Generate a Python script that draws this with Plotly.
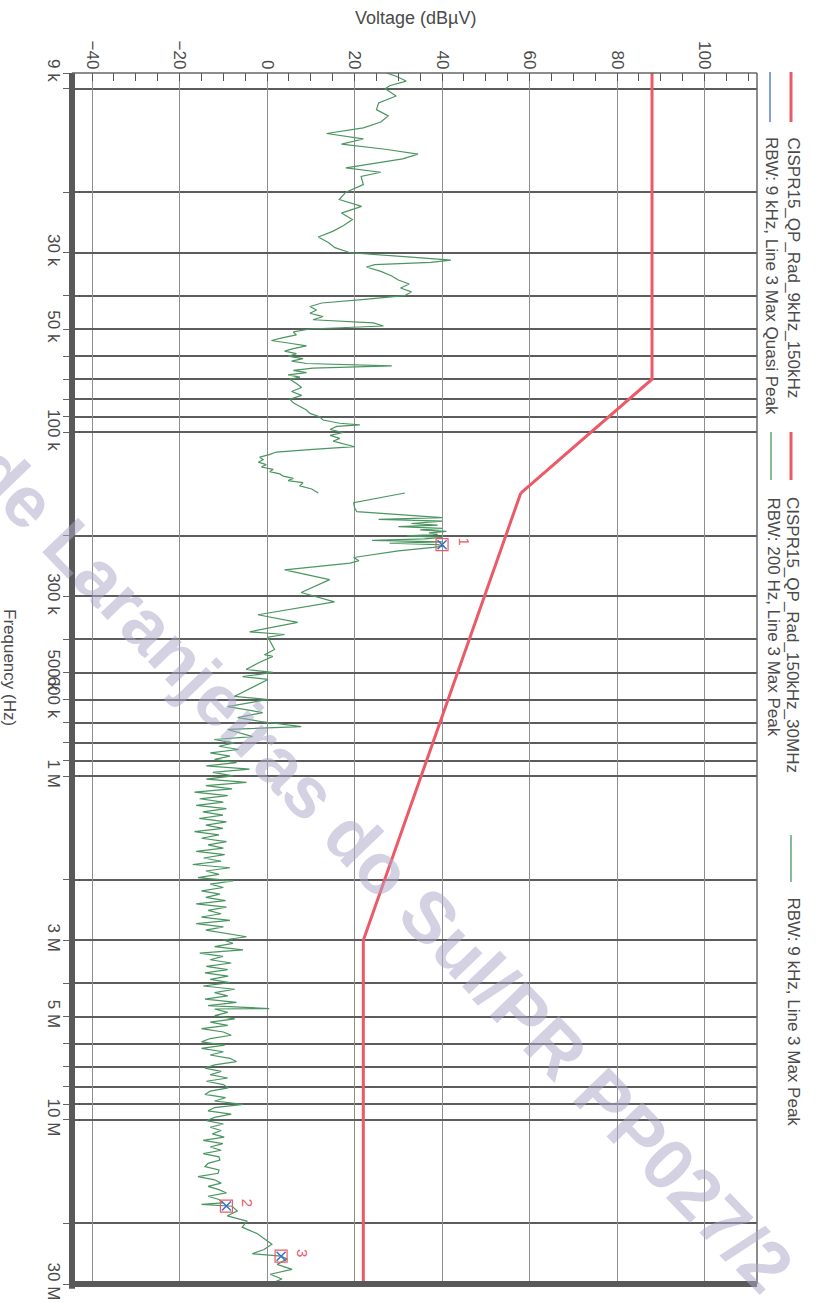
import math
import plotly.graph_objects as go

# ---------------- data (frequency in kHz, level in dBuV) ----------------
limit_lf_khz = [9, 70, 150]
limit_lf_db = [88, 88, 58]
limit_hf_khz = [150, 3000, 30000]
limit_hf_db = [58, 22, 22]

# RBW 200 Hz sweep, 9 kHz - 150 kHz
lf_khz = [9.0, 9.2, 9.5, 9.8, 10, 10.5, 11, 11.5, 12, 12.5, 13, 13.5, 14, 14.5, 15, 15.5,
          16, 16.5, 17, 17.5, 18, 19, 20, 21, 22, 23, 24, 25, 26, 27, 28, 29, 30, 31, 31.5,
          32, 32.5, 33, 34, 35, 36, 37, 38, 39, 40, 41, 42, 43, 44, 45, 46, 47, 48, 49, 50,
          51, 52, 53, 54, 55, 56, 57, 58, 59, 60, 61, 62, 63, 64, 65, 66, 67, 68, 69, 70,
          72, 74, 76, 78, 80, 82, 84, 86, 88, 90, 92, 94, 95, 96, 98, 100, 102, 104, 106,
          108, 110, 112, 114, 116, 118, 120, 122, 124, 126, 128, 130, 132, 134, 136, 138,
          140, 143, 146, 150]
lf_db = [27.3, 29.5, 31.8, 28, 27, 29.5, 25.5, 25, 27.7, 26, 22, 13.6, 22, 17, 27, 34.5,
         31, 24, 18, 26, 21.5, 22, 18, 16.5, 21.6, 17, 19.5, 17.5, 15, 11.7, 14, 15.5, 19,
         34.5, 42, 37.5, 24.6, 22.7, 26, 28.4, 30, 32.5, 30.5, 33, 31.4, 22.3, 12.5, 9.8,
         11.3, 9.8, 12.8, 10.5, 24.3, 26.6, 9.8, 6, 6.7, 3.7, 1, 5.2, 9, 6, 4, 6.7, 4.8,
         8.2, 5.6, 9, 28.5, 10.5, 6, 9, 4.8, 7.5, 5.2, 6.7, 7.9, 5.6, 7.9, 5.2, 6, 7.5, 9,
         9.8, 12, 12.8, 16.6, 21.2, 15.9, 14.4, 17.4, 14.4, 16.6, 15.1, 17.8, 20, 10.5, 2.1,
         0.5, -1.7, -0.9, -2, -0.2, -1.3, 1.4, 0.6, 2.9, 3.7, 6, 4.8, 8.2, 7.5, 10.2, 11.7]

# RBW 9 kHz sweep, 150 kHz - 30 MHz
hf_khz = [150, 160, 165.5, 170, 177, 179, 181, 184, 186, 188,
          190, 192, 194, 196, 198, 200, 202, 204, 206, 208,
          210, 212, 214, 216, 221, 231, 236, 240, 251, 268,
          292, 311, 339, 357, 380, 387, 394, 428, 443, 448,
          467, 489, 499, 513, 523, 541, 552, 586, 598, 627,
          653, 675, 693, 717, 731, 767,
          782, 800, 818, 836, 855, 874, 893, 913, 933, 954,
          975, 997, 1019, 1042, 1065, 1089, 1113, 1138, 1163, 1189,
          1215, 1242, 1270, 1298, 1327, 1357, 1387, 1418, 1450, 1482,
          1515, 1549, 1583, 1618, 1654, 1691, 1729, 1767, 1806, 1846,
          1887, 1929, 1972, 2016, 2061, 2107, 2154, 2202, 2251, 2301,
          2352, 2404, 2457, 2512, 2568, 2625, 2683, 2743, 2804, 2866,
          2930, 2995, 3062, 3130, 3200, 3271, 3344, 3418, 3494, 3572,
          3651, 3732, 3815, 3900, 3987, 4076, 4166, 4259, 4354, 4451,
          4550, 4651, 4740, 4755, 4861, 4969, 5079, 5192, 5308, 5426,
          5547, 5670, 5796, 5925, 6057, 6192, 6330, 6471, 6615, 6762,
          6912, 7066, 7223, 7384, 7548, 7716, 7888, 8064, 8243, 8426,
          8614, 8805, 9001, 9201, 9406, 9615, 9829, 10048, 10271, 10500,
          10733, 10972, 11216, 11466, 11721, 11982, 12248, 12521, 12799, 13084,
          13375, 13672, 13976, 14287, 14605, 14930, 15262, 15602, 15949, 16304,
          16666, 17037, 17416, 17600, 17820,
          18400, 19000, 19700, 20500, 21400, 22200, 23000, 23800, 24500, 24900,
          25400, 26300, 27200, 28100, 29000, 29800]
hf_db = [31.5, 19.8, 20, 20.5, 40, 25.5, 40, 33, 39, 30,
         40, 35, 41, 37, 39, 32, 40, 36, 24, 40,
         28, 39, 40.5, 38, 30, 19.8, 21, 19, 4, 14.3,
         7.8, 15.4, -2.1, 7, -4, 4, 0.2, 1.7, -0.6, 1.3,
         -1.8, -4.8, 1.3, -5.6, 0.2, -2.1, -3.7, -7.5, 0.2, -9,
         -1, -6.7, -1.4, 7.8, -9, -3.3,
         -12.1, -7.5, -11, -6.5, -13, -8.5, -12, -7, -13.9, -4,
         -12.4, -7.8, -13.9, -4.7, -14, -8, -16.6, -9, -15.4, -10,
         -16.2, -9.3, -14.7, -10.1, -15.5, -9.3, -14, -10.1, -16.6, -11,
         -15, -9.3, -13.5, -10, -16.2, -9.7, -14.5, -10.5, -17, -8.5,
         -14, -11, -15.8, -7.8, -13, -10, -15, -10.8, -14, -9.5,
         -16.2, -9.3, -13.5, -10.5, -15, -8.5, -16.2, -10, -14, -9.3,
         -4.7, -10, -7.8, -12, -5.5, -15.4, -10.1, -13, -8.2, -13.9,
         -9, -14.2, -8.9, -13, -8.5, -14.6, -7.4, -12, -9, -14.2,
         -7, -13.5, 0.5, -12, -9, -12, -7.4, -13, -9, -15,
         -10, -8.2, -13, -15, -9.7, -15, -10, -13, -8.5, -7,
         -12, -14.2, -10.5, -13, -9, -13.9, -10, -8.9, -13, -14.2,
         -9.5, -12, -5.5, -12, -13.5, -8.2, -12, -13.9, -10, -13,
         -10.5, -12.5, -9.8, -14.6, -10.1, -13, -10.5, -14.6, -11, -10.8,
         -13.5, -14.2, -11, -11.2, -15.8, -12, -10.5, -13.5, -11, -9.3,
         -13.5, -11, -10.1, -15, -8,
         -6.8, -9.1, -4.6, -5.7, -2.3, -0.7, 1.1, -0.7, -3.4, 3.2,
         4.6, 2.3, 5.7, 0.7, 3.4, 1.1]
assert len(hf_khz) == len(hf_db) and len(lf_khz) == len(lf_db)

marker_khz = [212, 17800, 24900]
marker_db = [40.0, -9.3, 3.2]
marker_labels = ["1", "2", "3"]

freq_tick_hz = [9e3, 3e4, 5e4, 1e5, 3e5, 5e5, 6e5, 1e6, 3e6, 5e6, 1e7, 3e7]
freq_tick_text = ["9 k", "30 k", "50 k", "100 k", "300 k", "500 k", "600 k", "1 M",
                  "3 M", "5 M", "10 M", "30 M"]
freq_grid_hz = [1e4, 2e4, 4e4, 6e4, 7e4, 8e4, 9e4, 2e5, 4e5, 7e5, 8e5, 9e5,
                2e6, 4e6, 6e6, 7e6, 8e6, 9e6, 2e7]
volt_ticks = [-40, -20, 0, 20, 40, 60, 80, 100]

# ---------------- styling ----------------
RED = "#ec5a68"
GREEN = "#4a9660"
BLUE = "#3b6fc6"
GRID_H = "#5c5c5c"
GRID_V = "#8e8e8e"
FONT = "Liberation Sans, Arial, sans-serif"
TXT = "#4a4a4a"

W, H = 817, 1302
L, R, T, B = 72, 60, 73, 18

def px_x(p):
    return (p - L) / (W - L - R)

def px_y(p):
    return (H - B - p) / (H - B - T)

k = lambda arr: [v * 1000 for v in arr]

fig = go.Figure()
fig.add_trace(go.Scatter(x=limit_lf_db, y=k(limit_lf_khz), mode="lines",
                         line=dict(color=RED, width=3), showlegend=False))
fig.add_trace(go.Scatter(x=limit_hf_db, y=k(limit_hf_khz), mode="lines",
                         line=dict(color=RED, width=3), showlegend=False))
fig.add_trace(go.Scatter(x=lf_db, y=k(lf_khz), mode="lines",
                         line=dict(color=GREEN, width=1.2), showlegend=False))
fig.add_trace(go.Scatter(x=hf_db, y=k(hf_khz), mode="lines",
                         line=dict(color=GREEN, width=1.2), showlegend=False))
fig.add_trace(go.Scatter(x=marker_db, y=k(marker_khz), mode="markers",
                         marker=dict(symbol="square-open", size=12, color=RED,
                                     line=dict(width=1.2, color=RED)),
                         showlegend=False))
fig.add_trace(go.Scatter(x=marker_db, y=k(marker_khz), mode="markers",
                         marker=dict(symbol="x-thin-open", size=9, color=BLUE,
                                     line=dict(width=1.5, color=BLUE)),
                         showlegend=False))

annotations = []
for v, f, lab in zip(marker_db, marker_khz, marker_labels):
    annotations.append(dict(x=v, y=math.log10(f * 1000), xref="x", yref="y", text=lab,
                            showarrow=False, textangle=90, xshift=22, yshift=3,
                            xanchor="center", yanchor="middle",
                            font=dict(family=FONT, size=15, color=RED)))

# axis titles
annotations.append(dict(x=px_x(415), y=px_y(18), xref="paper", yref="paper",
                        text="Voltage (dBµV)", showarrow=False,
                        xanchor="center", yanchor="middle",
                        font=dict(family=FONT, size=18, color=TXT)))
annotations.append(dict(x=px_x(10), y=px_y(668), xref="paper", yref="paper",
                        text="Frequency (Hz)", showarrow=False, textangle=90,
                        xanchor="center", yanchor="middle",
                        font=dict(family=FONT, size=17, color=TXT)))

# legend (rotated like the scanned page)
legend_items = [
    ("CISPR15_QP_Rad_9kHz_150kHz", RED, 3, 791, 72, 122, 135),
    ("RBW: 9 kHz, Line 3 Max Quasi Peak", BLUE, 1.3, 770, 72, 122, 135),
    ("CISPR15_QP_Rad_150kHz_30MHz", RED, 3, 791, 432, 480, 495),
    ("RBW: 200 Hz, Line 3 Max Peak", GREEN, 1.3, 771, 432, 480, 495),
    ("RBW: 9 kHz, Line 3 Max Peak", GREEN, 1.3, 791, 835, 882, 895),
]
shapes = []
for text, col, lw, xc, y0, y1, ty in legend_items:
    shapes.append(dict(type="line", xref="paper", yref="paper", x0=px_x(xc), x1=px_x(xc),
                       y0=px_y(y0), y1=px_y(y1), line=dict(color=col, width=lw)))
    annotations.append(dict(x=px_x(xc + 2), y=px_y(ty), xref="paper", yref="paper",
                            text=text, showarrow=False, textangle=90,
                            xanchor="center", yanchor="top",
                            font=dict(family=FONT, size=17, color=TXT)))

# plot frame
shapes += [
    dict(type="line", xref="paper", yref="paper", x0=0, x1=0, y0=-0.004, y1=1,
         line=dict(color="#595959", width=6)),
    dict(type="line", xref="paper", yref="paper", x0=0, x1=1, y0=0, y1=0,
         line=dict(color="#595959", width=6)),
    dict(type="line", xref="paper", yref="paper", x0=0, x1=1, y0=1, y1=1,
         line=dict(color="#666666", width=1.5)),
    dict(type="line", xref="paper", yref="paper", x0=1, x1=1, y0=0, y1=1,
         line=dict(color="#666666", width=1.5)),
]

# watermark (stamped across the scanned page, cut by the page edges as in the original)
annotations.append(dict(x=px_x(382), y=px_y(868), xref="paper", yref="paper",
                        text="de Laranjeiras do Sul/PR PP027/2", showarrow=False,
                        textangle=46, xanchor="center", yanchor="middle",
                        font=dict(family="Liberation Sans, Arial, sans-serif", size=72,
                                  color="rgba(170,166,200,0.52)", weight="bold")))

fig.update_layout(
    width=W, height=H,
    margin=dict(l=L, r=R, t=T, b=B, autoexpand=False),
    paper_bgcolor="white", plot_bgcolor="white",
    font=dict(family=FONT, size=17, color=TXT),
    showlegend=False,
    shapes=shapes,
    annotations=annotations,
    xaxis=dict(range=[-44.6, 112], side="top", tickmode="array", tickvals=volt_ticks,
               tickangle=90, ticks="inside", ticklen=8, tickcolor="#555", tickwidth=1,
               showgrid=True, gridcolor=GRID_V, gridwidth=1, zeroline=False,
               showline=False, automargin=False, tickfont=dict(size=17, color=TXT),
               minor=dict(dtick=5, tick0=0, ticks="inside", ticklen=8, tickcolor="#555",
                          showgrid=False)),
    yaxis=dict(type="log", range=[math.log10(3e7), math.log10(9e3)], tickmode="array",
               tickvals=freq_tick_hz, ticktext=freq_tick_text, tickangle=90,
               ticks="outside", ticklen=8, tickcolor="#666", showgrid=True,
               gridcolor=GRID_H, gridwidth=2, zeroline=False, showline=False,
               automargin=False, ticklabelstandoff=-5, tickfont=dict(size=17, color=TXT),
               minor=dict(tickvals=freq_grid_hz, ticks="outside", ticklen=8,
                          tickcolor="#666", showgrid=True, gridcolor=GRID_H, gridwidth=2)),
)

fig.write_html("out.html",
               config={"displayModeBar": False},
               post_script="document.body.style.margin='0';"
                           "document.body.style.overflow='hidden';")
